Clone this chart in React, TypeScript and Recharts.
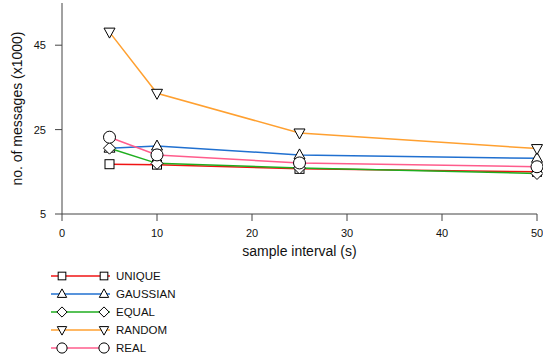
import { LineChart, Line, XAxis, YAxis, Legend } from 'recharts'

// sample interval (s)
const intervals = [5, 10, 25, 50]

// no. of messages (x1000)
const unique = [16.8, 16.7, 15.7, 15.0]
const gaussian = [20.6, 21.1, 19.0, 18.2]
const equal = [20.6, 17.0, 15.9, 14.6]
const random = [48.1, 33.6, 24.2, 20.5]
const real = [23.2, 19.0, 17.1, 16.2]

const xTicks = [0, 10, 20, 30, 40, 50]
const yTicks = [5, 25, 45]

const FONT = 'Liberation Sans, Arial, Helvetica, sans-serif'
const AXIS = '#444'

type Shape = 'square' | 'up' | 'diamond' | 'down' | 'circle'

const seriesList: { key: string; name: string; values: number[]; color: string; shape: Shape }[] = [
  { key: 'unique', name: 'UNIQUE', values: unique, color: '#f01414', shape: 'square' },
  { key: 'gaussian', name: 'GAUSSIAN', values: gaussian, color: '#2070d0', shape: 'up' },
  { key: 'equal', name: 'EQUAL', values: equal, color: '#1fae1f', shape: 'diamond' },
  { key: 'random', name: 'RANDOM', values: random, color: '#ffa030', shape: 'down' },
  { key: 'real', name: 'REAL', values: real, color: '#ff5c8c', shape: 'circle' },
]

const rows = intervals.map((x, i) => {
  const row: Record<string, number> = { x }
  seriesList.forEach(s => { row[s.key] = s.values[i] })
  return row
})

function Marker({ shape, cx, cy, s = 1 }: { shape: Shape; cx: number; cy: number; s?: number }) {
  const st = { fill: '#fff', stroke: '#000', strokeWidth: 1 }
  switch (shape) {
    case 'square':
      return <rect x={cx - 4.5 * s} y={cy - 4.5 * s} width={9 * s} height={9 * s} {...st} />
    case 'up':
      return <polygon points={`${cx},${cy - 6 * s} ${cx - 5.5 * s},${cy + 4 * s} ${cx + 5.5 * s},${cy + 4 * s}`} {...st} />
    case 'down':
      return <polygon points={`${cx},${cy + 6 * s} ${cx - 5.5 * s},${cy - 4 * s} ${cx + 5.5 * s},${cy - 4 * s}`} {...st} />
    case 'diamond':
      return <polygon points={`${cx},${cy - 6 * s} ${cx + 6 * s},${cy} ${cx},${cy + 6 * s} ${cx - 6 * s},${cy}`} {...st} />
    default:
      return <circle cx={cx} cy={cy} r={6 * s} {...st} />
  }
}

function LegendBox() {
  return (
    <svg width={200} height={100} style={{ display: 'block' }}>
      {seriesList.map((s, i) => {
        const y = 20 + i * 18
        return (
          <g key={s.key}>
            <line x1={51} x2={110} y1={y} y2={y} stroke={s.color} strokeWidth={1.5} />
            <Marker shape={s.shape} cx={62} cy={y} s={0.85} />
            <Marker shape={s.shape} cx={104} cy={y} s={0.85} />
            <text x={116} y={y + 4} fontSize={11.5} fontFamily={FONT} fill="#111">{s.name}</text>
          </g>
        )
      })}
    </svg>
  )
}

function YTitle({ viewBox }: any) {
  const cx = viewBox.x + 22
  const cy = viewBox.y + viewBox.height / 2
  return (
    <text x={cx} y={cy} transform={`rotate(-90 ${cx} ${cy})`} textAnchor="middle"
      fontSize={14} fontFamily={FONT} fill="#111">
      no. of messages (x1000)
    </text>
  )
}

export default function App() {
  return (
    <div style={{ position: 'absolute', left: 0, top: 0 }}>
      <LineChart width={543} height={358} data={rows} margin={{ top: 3, right: 6, bottom: 2, left: 0 }}>
        <XAxis
          dataKey="x"
          type="number"
          domain={[0, 50]}
          ticks={xTicks}
          height={42}
          stroke={AXIS}
          tickSize={7}
          tickMargin={8}
          tick={{ fontSize: 11, fontFamily: FONT, fill: '#111' }}
          label={{ value: 'sample interval (s)', position: 'insideBottom', offset: 0, fontSize: 14, fontFamily: FONT, fill: '#111' }}
        />
        <YAxis
          type="number"
          domain={[5, 55]}
          ticks={yTicks}
          width={62}
          stroke={AXIS}
          tickSize={7}
          tickMargin={9}
          tick={{ fontSize: 11, fontFamily: FONT, fill: '#111' }}
          label={{ content: YTitle }}
        />
        <Legend verticalAlign="bottom" content={LegendBox} wrapperStyle={{ left: 0, width: 200 }} />
        {seriesList.map(s => (
          <Line
            key={s.key}
            dataKey={s.key}
            name={s.name}
            stroke={s.color}
            strokeWidth={1.5}
            isAnimationActive={false}
            dot={(p: any) => <Marker key={`${s.key}-${p.index}`} shape={s.shape} cx={p.cx} cy={p.cy} />}
          />
        ))}
      </LineChart>
    </div>
  )
}
